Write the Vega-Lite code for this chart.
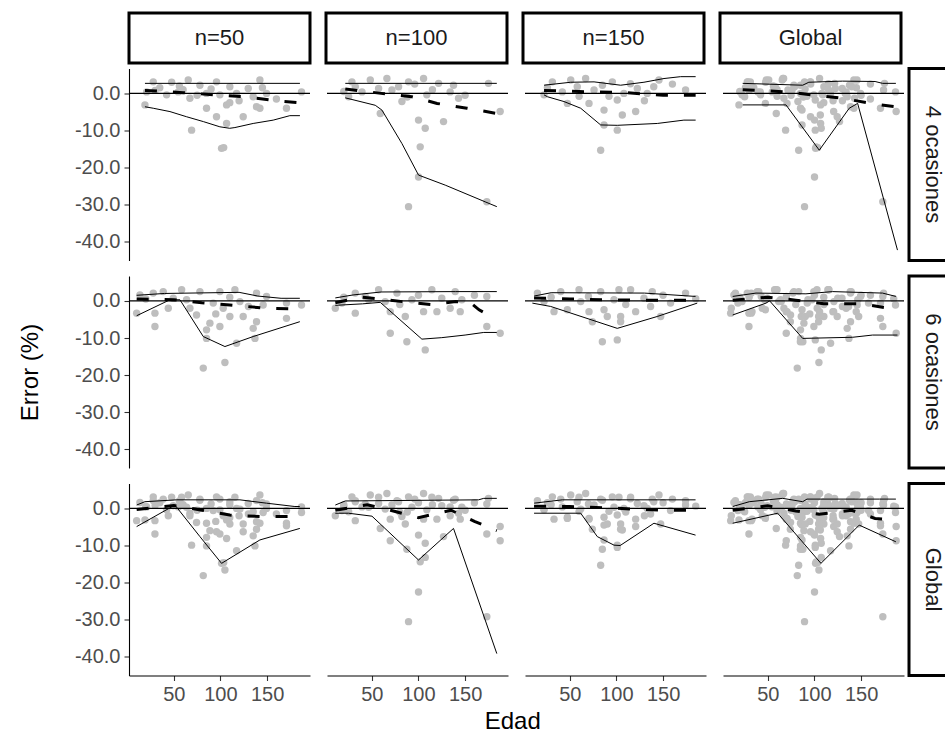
{
"$schema":"https://vega.github.io/schema/vega-lite/v6.json",
"background":"white",
"padding":{"left":16,"top":11,"right":0,"bottom":5},
"title":{"text":"Edad","orient":"bottom","anchor":"middle","frame":"bounds","dx":25,"offset":5,"fontSize":24,"fontWeight":"normal","font":"Liberation Sans","color":"black"},
"config":{"view":{"stroke":null},"font":"Liberation Sans",
 "axis":{"domainColor":"black","domainWidth":1.1,"tickColor":"#333333","tickWidth":1.1,"tickSize":5,"labelColor":"#4D4D4D","labelFontSize":20,"labelFont":"Liberation Sans","titleFont":"Liberation Sans","titleFontSize":24,"titleFontWeight":"normal","titleColor":"black","grid":false,"labelPadding":4,"labelOverlap":false}},
"datasets":{
"pts":[
{"n":50,"o":4,"x":19.1,"y":-3.1},{"n":50,"o":4,"x":20.9,"y":0.4},{"n":50,"o":4,"x":28.0,"y":3.1},{"n":50,"o":4,"x":35,"y":1.5},{"n":50,"o":4,"x":42.3,"y":-0.4},{"n":50,"o":4,"x":47.7,"y":3.0},{"n":50,"o":4,"x":54.8,"y":0.4},{"n":50,"o":4,"x":60,"y":1.0},{"n":50,"o":4,"x":65.5,"y":3.6},{"n":50,"o":4,"x":67.3,"y":-1.3},{"n":50,"o":4,"x":69.1,"y":-9.9},{"n":50,"o":4,"x":75,"y":-0.5},{"n":50,"o":4,"x":78.0,"y":2.2},{"n":50,"o":4,"x":85.1,"y":0.0},{"n":50,"o":4,"x":85.1,"y":-4.0},{"n":50,"o":4,"x":90,"y":1.2},{"n":50,"o":4,"x":95.8,"y":3.1},{"n":50,"o":4,"x":95.8,"y":-6.3},{"n":50,"o":4,"x":99.4,"y":-0.4},{"n":50,"o":4,"x":101.2,"y":-14.8},{"n":50,"o":4,"x":103.5,"y":-14.6},{"n":50,"o":4,"x":106.6,"y":-3.1},{"n":50,"o":4,"x":106.6,"y":-8.1},{"n":50,"o":4,"x":110.1,"y":1.8},{"n":50,"o":4,"x":117.3,"y":0.0},{"n":50,"o":4,"x":120,"y":-2.0},{"n":50,"o":4,"x":124.4,"y":-6.3},{"n":50,"o":4,"x":129.8,"y":1.3},{"n":50,"o":4,"x":135.1,"y":-0.9},{"n":50,"o":4,"x":138.7,"y":-3.6},{"n":50,"o":4,"x":142.3,"y":3.6},{"n":50,"o":4,"x":142.3,"y":-4.0},{"n":50,"o":4,"x":149.4,"y":0.0},{"n":50,"o":4,"x":160,"y":-1.5},{"n":50,"o":4,"x":170.8,"y":-4.0},{"n":50,"o":4,"x":186.9,"y":0.4},{"n":50,"o":4,"x":30,"y":0.8},{"n":50,"o":4,"x":110,"y":-2.5},{"n":50,"o":4,"x":145,"y":1.5},{"n":50,"o":4,"x":56,"y":2.0},
{"n":100,"o":4,"x":28.7,"y":3.1},{"n":100,"o":4,"x":48.4,"y":3.6},{"n":100,"o":4,"x":66.2,"y":4.0},{"n":100,"o":4,"x":78.7,"y":1.8},{"n":100,"o":4,"x":89.4,"y":3.1},{"n":100,"o":4,"x":105.5,"y":4.0},{"n":100,"o":4,"x":121.6,"y":2.7},{"n":100,"o":4,"x":137.6,"y":2.2},{"n":100,"o":4,"x":143,"y":-1.3},{"n":100,"o":4,"x":175.1,"y":2.7},{"n":100,"o":4,"x":187.6,"y":-4.9},{"n":100,"o":4,"x":59.1,"y":-5.4},{"n":100,"o":4,"x":100.1,"y":-7.2},{"n":100,"o":4,"x":107.3,"y":-9.4},{"n":100,"o":4,"x":126.9,"y":-7.6},{"n":100,"o":4,"x":101.9,"y":-14.4},{"n":100,"o":4,"x":100.1,"y":-22.5},{"n":100,"o":4,"x":89.4,"y":-30.5},{"n":100,"o":4,"x":173.3,"y":-29.2},{"n":100,"o":4,"x":25.2,"y":-0.9},{"n":100,"o":4,"x":39.5,"y":0.4},{"n":100,"o":4,"x":82.3,"y":-2.2},{"n":100,"o":4,"x":71.6,"y":0.9},{"n":100,"o":4,"x":109,"y":-0.4},{"n":100,"o":4,"x":57.3,"y":1.3},{"n":100,"o":4,"x":134,"y":0.4},{"n":100,"o":4,"x":32.3,"y":1.8},{"n":100,"o":4,"x":96,"y":2.5},{"n":100,"o":4,"x":115,"y":1.0},{"n":100,"o":4,"x":20,"y":0.5},{"n":100,"o":4,"x":150,"y":-0.5},{"n":100,"o":4,"x":88,"y":-1.0},
{"n":150,"o":4,"x":31.3,"y":3.1},{"n":150,"o":4,"x":51,"y":3.6},{"n":150,"o":4,"x":67,"y":4.0},{"n":150,"o":4,"x":95.6,"y":3.1},{"n":150,"o":4,"x":145.6,"y":3.6},{"n":150,"o":4,"x":174.1,"y":0.9},{"n":150,"o":4,"x":22.4,"y":-0.4},{"n":150,"o":4,"x":47.4,"y":-2.7},{"n":150,"o":4,"x":70.6,"y":-2.7},{"n":150,"o":4,"x":86.7,"y":-4.5},{"n":150,"o":4,"x":100.9,"y":-1.8},{"n":150,"o":4,"x":106.3,"y":-5.8},{"n":150,"o":4,"x":100.9,"y":-9.9},{"n":150,"o":4,"x":86.7,"y":-8.5},{"n":150,"o":4,"x":120.6,"y":-4.9},{"n":150,"o":4,"x":83.1,"y":-15.3},{"n":150,"o":4,"x":122.4,"y":1.3},{"n":150,"o":4,"x":133,"y":0.0},{"n":150,"o":4,"x":76,"y":0.9},{"n":150,"o":4,"x":42,"y":0.4},{"n":150,"o":4,"x":58,"y":1.8},{"n":150,"o":4,"x":108,"y":0.0},{"n":150,"o":4,"x":26,"y":1.5},{"n":150,"o":4,"x":85,"y":2.2},{"n":150,"o":4,"x":115,"y":2.6},{"n":150,"o":4,"x":140,"y":1.8},{"n":150,"o":4,"x":160,"y":2.5},{"n":150,"o":4,"x":92,"y":-0.8},{"n":150,"o":4,"x":60,"y":-0.8},{"n":150,"o":4,"x":130,"y":-2.0},
{"n":50,"o":6,"x":13.7,"y":1.6},{"n":50,"o":6,"x":28,"y":2.1},{"n":50,"o":6,"x":38.7,"y":2.5},{"n":50,"o":6,"x":58.4,"y":3.0},{"n":50,"o":6,"x":78,"y":2.5},{"n":50,"o":6,"x":99.4,"y":2.5},{"n":50,"o":6,"x":115.5,"y":3.0},{"n":50,"o":6,"x":138.7,"y":2.1},{"n":50,"o":6,"x":149.4,"y":1.2},{"n":50,"o":6,"x":170.8,"y":-0.6},{"n":50,"o":6,"x":186.9,"y":-1.1},{"n":50,"o":6,"x":10.2,"y":-3.3},{"n":50,"o":6,"x":29.8,"y":-3.3},{"n":50,"o":6,"x":29.8,"y":-6.9},{"n":50,"o":6,"x":44.1,"y":-2.0},{"n":50,"o":6,"x":67.3,"y":-2.0},{"n":50,"o":6,"x":74.4,"y":-3.8},{"n":50,"o":6,"x":88.7,"y":-6.0},{"n":50,"o":6,"x":85.1,"y":-7.8},{"n":50,"o":6,"x":99.4,"y":-6.9},{"n":50,"o":6,"x":103,"y":-2.0},{"n":50,"o":6,"x":110.1,"y":-4.2},{"n":50,"o":6,"x":124.4,"y":-4.2},{"n":50,"o":6,"x":135.1,"y":-7.4},{"n":50,"o":6,"x":138.7,"y":-5.6},{"n":50,"o":6,"x":170.8,"y":-4.7},{"n":50,"o":6,"x":81.6,"y":-18.1},{"n":50,"o":6,"x":104.8,"y":-16.6},{"n":50,"o":6,"x":85.1,"y":-10.1},{"n":50,"o":6,"x":117.3,"y":-11.4},{"n":50,"o":6,"x":137,"y":-10.1},{"n":50,"o":6,"x":63.7,"y":0.3},{"n":50,"o":6,"x":49.4,"y":0.7},{"n":50,"o":6,"x":92.3,"y":-0.6},{"n":50,"o":6,"x":120.9,"y":-0.2},{"n":50,"o":6,"x":145.8,"y":-1.1},{"n":50,"o":6,"x":20,"y":0.5},{"n":50,"o":6,"x":110,"y":1.0},{"n":50,"o":6,"x":130,"y":-1.5},{"n":50,"o":6,"x":95,"y":-3.5},
{"n":100,"o":6,"x":32.3,"y":2.1},{"n":100,"o":6,"x":57.3,"y":3.0},{"n":100,"o":6,"x":77,"y":2.1},{"n":100,"o":6,"x":114.4,"y":3.0},{"n":100,"o":6,"x":139.4,"y":2.5},{"n":100,"o":6,"x":173.3,"y":1.2},{"n":100,"o":6,"x":10.9,"y":-2.0},{"n":100,"o":6,"x":32.3,"y":-3.3},{"n":100,"o":6,"x":69.8,"y":-2.9},{"n":100,"o":6,"x":85.9,"y":-4.2},{"n":100,"o":6,"x":105.5,"y":-2.9},{"n":100,"o":6,"x":119.8,"y":-2.9},{"n":100,"o":6,"x":134,"y":-2.0},{"n":100,"o":6,"x":144.8,"y":-2.9},{"n":100,"o":6,"x":69.8,"y":-8.7},{"n":100,"o":6,"x":87.6,"y":-11.0},{"n":100,"o":6,"x":107.3,"y":-13.2},{"n":100,"o":6,"x":173.3,"y":-6.9},{"n":100,"o":6,"x":187.6,"y":-8.7},{"n":100,"o":6,"x":18,"y":-0.6},{"n":100,"o":6,"x":46.6,"y":0.3},{"n":100,"o":6,"x":93,"y":0.3},{"n":100,"o":6,"x":125,"y":0.7},{"n":100,"o":6,"x":146.5,"y":0.3},{"n":100,"o":6,"x":43,"y":1.2},{"n":100,"o":6,"x":64.4,"y":-0.2},{"n":100,"o":6,"x":20,"y":1.0},{"n":100,"o":6,"x":100,"y":1.5},{"n":100,"o":6,"x":80,"y":-1.0},{"n":100,"o":6,"x":160,"y":1.5},
{"n":150,"o":6,"x":15.3,"y":2.1},{"n":150,"o":6,"x":40.3,"y":2.5},{"n":150,"o":6,"x":59.9,"y":3.0},{"n":150,"o":6,"x":83.1,"y":2.5},{"n":150,"o":6,"x":102.7,"y":3.0},{"n":150,"o":6,"x":115.2,"y":3.0},{"n":150,"o":6,"x":138.4,"y":2.5},{"n":150,"o":6,"x":174.1,"y":2.1},{"n":150,"o":6,"x":33.1,"y":-2.9},{"n":150,"o":6,"x":47.4,"y":-2.4},{"n":150,"o":6,"x":70.6,"y":-2.9},{"n":150,"o":6,"x":74.2,"y":-5.6},{"n":150,"o":6,"x":86.7,"y":-2.4},{"n":150,"o":6,"x":90.2,"y":-4.2},{"n":150,"o":6,"x":104.5,"y":-4.2},{"n":150,"o":6,"x":104.5,"y":-5.6},{"n":150,"o":6,"x":120.6,"y":-2.9},{"n":150,"o":6,"x":136.6,"y":-1.5},{"n":150,"o":6,"x":147.4,"y":-4.2},{"n":150,"o":6,"x":84.9,"y":-11.0},{"n":150,"o":6,"x":100.9,"y":-10.5},{"n":150,"o":6,"x":22.4,"y":-0.2},{"n":150,"o":6,"x":61.7,"y":-0.2},{"n":150,"o":6,"x":97.4,"y":0.3},{"n":150,"o":6,"x":129.5,"y":0.7},{"n":150,"o":6,"x":158,"y":-0.6},{"n":150,"o":6,"x":30,"y":1.0},{"n":150,"o":6,"x":70,"y":1.2},{"n":150,"o":6,"x":150,"y":1.5},{"n":150,"o":6,"x":110,"y":-1.0},{"n":150,"o":6,"x":185,"y":0.6}
],
"lns":[
{"p":"11","t":"sup","x":19.1,"y":2.7},{"p":"11","t":"sup","x":185.2,"y":2.7},
{"p":"11","t":"inf","x":19.1,"y":-3.6},{"p":"11","t":"inf","x":28,"y":-4.0},{"p":"11","t":"inf","x":45.9,"y":-4.9},{"p":"11","t":"inf","x":63.8,"y":-6.3},{"p":"11","t":"inf","x":81.7,"y":-7.6},{"p":"11","t":"inf","x":99.4,"y":-9.0},{"p":"11","t":"inf","x":110,"y":-9.4},{"p":"11","t":"inf","x":115.5,"y":-9.2},{"p":"11","t":"inf","x":135.1,"y":-8.1},{"p":"11","t":"inf","x":156.6,"y":-7.2},{"p":"11","t":"inf","x":174.4,"y":-6.0},{"p":"11","t":"inf","x":185.2,"y":-6.0},
{"p":"11","t":"media","x":19.1,"y":0.8},{"p":"11","t":"media","x":60,"y":0.2},{"p":"11","t":"media","x":100,"y":-0.5},{"p":"11","t":"media","x":130,"y":-1.0},{"p":"11","t":"media","x":160,"y":-2.0},{"p":"11","t":"media","x":185.2,"y":-2.5},
{"p":"12","t":"sup","x":21.6,"y":2.7},{"p":"12","t":"sup","x":184,"y":2.7},
{"p":"12","t":"inf","x":21.6,"y":-1.2},{"p":"12","t":"inf","x":53.7,"y":-3.2},{"p":"12","t":"inf","x":60.9,"y":-4.5},{"p":"12","t":"inf","x":82.3,"y":-13.5},{"p":"12","t":"inf","x":100.1,"y":-22.0},{"p":"12","t":"inf","x":128.7,"y":-24.7},{"p":"12","t":"inf","x":171.5,"y":-29.2},{"p":"12","t":"inf","x":184,"y":-30.5},
{"p":"12","t":"media","x":21.6,"y":1.2},{"p":"12","t":"media","x":60,"y":0.0},{"p":"12","t":"media","x":93,"y":-0.9},{"p":"12","t":"media","x":120,"y":-2.7},{"p":"12","t":"media","x":152,"y":-4.0},{"p":"12","t":"media","x":184,"y":-5.4},
{"p":"13","t":"sup","x":22.4,"y":2.2},{"p":"13","t":"sup","x":51,"y":3.0},{"p":"13","t":"sup","x":76,"y":3.1},{"p":"13","t":"sup","x":104.5,"y":2.2},{"p":"13","t":"sup","x":129.5,"y":3.0},{"p":"13","t":"sup","x":151,"y":4.0},{"p":"13","t":"sup","x":168.8,"y":4.5},{"p":"13","t":"sup","x":184.9,"y":4.5},
{"p":"13","t":"inf","x":22.4,"y":-0.4},{"p":"13","t":"inf","x":26,"y":-0.9},{"p":"13","t":"inf","x":43.8,"y":-2.2},{"p":"13","t":"inf","x":61.7,"y":-4.0},{"p":"13","t":"inf","x":83.1,"y":-8.5},{"p":"13","t":"inf","x":100.9,"y":-8.6},{"p":"13","t":"inf","x":143.8,"y":-8.1},{"p":"13","t":"inf","x":172.3,"y":-7.2},{"p":"13","t":"inf","x":184.9,"y":-7.2},
{"p":"13","t":"media","x":22.4,"y":0.8},{"p":"13","t":"media","x":60,"y":0.5},{"p":"13","t":"media","x":110,"y":0.2},{"p":"13","t":"media","x":150,"y":-0.5},{"p":"13","t":"media","x":184.9,"y":-0.5},
{"p":"14","t":"sup","x":23.1,"y":2.7},{"p":"14","t":"sup","x":87.4,"y":2.2},{"p":"14","t":"sup","x":94,"y":3.0},{"p":"14","t":"sup","x":130,"y":3.3},{"p":"14","t":"sup","x":165,"y":3.2},{"p":"14","t":"sup","x":173,"y":2.7},{"p":"14","t":"sup","x":187.3,"y":2.7},
{"p":"14","t":"inf","x":23.1,"y":-3.1},{"p":"14","t":"inf","x":69.5,"y":-3.1},{"p":"14","t":"inf","x":105.2,"y":-15.3},{"p":"14","t":"inf","x":137.3,"y":-4.0},{"p":"14","t":"inf","x":146.3,"y":-2.7},{"p":"14","t":"inf","x":189,"y":-42.2},
{"p":"14","t":"media","x":23.1,"y":1.0},{"p":"14","t":"media","x":70,"y":0.4},{"p":"14","t":"media","x":100,"y":-0.5},{"p":"14","t":"media","x":130,"y":-1.3},{"p":"14","t":"media","x":160,"y":-2.7},{"p":"14","t":"media","x":187.3,"y":-3.6},
{"p":"21","t":"sup","x":10.2,"y":1.5},{"p":"21","t":"sup","x":40,"y":2.0},{"p":"21","t":"sup","x":120,"y":2.3},{"p":"21","t":"sup","x":140,"y":1.3},{"p":"21","t":"sup","x":165,"y":0.7},{"p":"21","t":"sup","x":185.1,"y":0.7},
{"p":"21","t":"inf","x":10.2,"y":-4.0},{"p":"21","t":"inf","x":45.9,"y":0.3},{"p":"21","t":"inf","x":56.6,"y":0.3},{"p":"21","t":"inf","x":81.6,"y":-9.6},{"p":"21","t":"inf","x":104.8,"y":-12.3},{"p":"21","t":"inf","x":135.1,"y":-9.6},{"p":"21","t":"inf","x":185.1,"y":-5.6},
{"p":"21","t":"media","x":10.2,"y":0.5},{"p":"21","t":"media","x":50,"y":0.3},{"p":"21","t":"media","x":80,"y":-0.5},{"p":"21","t":"media","x":110,"y":-1.1},{"p":"21","t":"media","x":150,"y":-2.0},{"p":"21","t":"media","x":185.1,"y":-2.2},
{"p":"22","t":"sup","x":10.9,"y":0.8},{"p":"22","t":"sup","x":30,"y":1.6},{"p":"22","t":"sup","x":60,"y":2.4},{"p":"22","t":"sup","x":140,"y":2.5},{"p":"22","t":"sup","x":184,"y":2.5},
{"p":"22","t":"inf","x":10.9,"y":-1.2},{"p":"22","t":"inf","x":40,"y":-0.8},{"p":"22","t":"inf","x":59.1,"y":-0.4},{"p":"22","t":"inf","x":103.7,"y":-10.3},{"p":"22","t":"inf","x":125,"y":-9.9},{"p":"22","t":"inf","x":150,"y":-9.2},{"p":"22","t":"inf","x":170,"y":-8.5},{"p":"22","t":"inf","x":184,"y":-8.5},
{"p":"22","t":"media","x":10.9,"y":-0.5},{"p":"22","t":"media","x":40,"y":1.0},{"p":"22","t":"media","x":65,"y":0.3},{"p":"22","t":"media","x":90,"y":-0.4},{"p":"22","t":"media","x":115,"y":-1.0},{"p":"22","t":"media","x":140,"y":-0.2},{"p":"22","t":"media","x":155,"y":-0.3},{"p":"22","t":"media","x":165,"y":-2.4},{"p":"22","t":"media","x":184,"y":-5.0},
{"p":"23","t":"sup","x":11.7,"y":1.3},{"p":"23","t":"sup","x":30,"y":2.2},{"p":"23","t":"sup","x":130,"y":2.1},{"p":"23","t":"sup","x":184.8,"y":1.2},
{"p":"23","t":"inf","x":9.9,"y":-0.6},{"p":"23","t":"inf","x":29.5,"y":-1.5},{"p":"23","t":"inf","x":100.9,"y":-7.4},{"p":"23","t":"inf","x":143.8,"y":-4.2},{"p":"23","t":"inf","x":186.6,"y":-0.6},
{"p":"23","t":"media","x":11.7,"y":0.8},{"p":"23","t":"media","x":50,"y":0.5},{"p":"23","t":"media","x":90,"y":0.3},{"p":"23","t":"media","x":130,"y":0.2},{"p":"23","t":"media","x":184.8,"y":0.2},
{"p":"24","t":"sup","x":12.4,"y":1.2},{"p":"24","t":"sup","x":37.4,"y":2.1},{"p":"24","t":"sup","x":90.9,"y":1.9},{"p":"24","t":"sup","x":119.5,"y":2.5},{"p":"24","t":"sup","x":173,"y":2.1},{"p":"24","t":"sup","x":187.3,"y":1.2},
{"p":"24","t":"inf","x":12.4,"y":-3.8},{"p":"24","t":"inf","x":48.1,"y":-0.6},{"p":"24","t":"inf","x":52,"y":0.0},{"p":"24","t":"inf","x":87.4,"y":-10.1},{"p":"24","t":"inf","x":140.9,"y":-9.8},{"p":"24","t":"inf","x":162.3,"y":-9.2},{"p":"24","t":"inf","x":189,"y":-9.2},
{"p":"24","t":"media","x":12.4,"y":0.2},{"p":"24","t":"media","x":50,"y":1.0},{"p":"24","t":"media","x":80,"y":0.2},{"p":"24","t":"media","x":110,"y":-0.8},{"p":"24","t":"media","x":150,"y":-0.8},{"p":"24","t":"media","x":180,"y":-2.0},{"p":"24","t":"media","x":187.3,"y":-2.0},
{"p":"31","t":"sup","x":10.2,"y":0.9},{"p":"31","t":"sup","x":19.1,"y":1.8},{"p":"31","t":"sup","x":53,"y":2.3},{"p":"31","t":"sup","x":120.9,"y":2.3},{"p":"31","t":"sup","x":149.4,"y":1.4},{"p":"31","t":"sup","x":179.8,"y":0.5},{"p":"31","t":"sup","x":185,"y":0.5},
{"p":"31","t":"inf","x":10.2,"y":-4.9},{"p":"31","t":"inf","x":51.2,"y":0.9},{"p":"31","t":"inf","x":78,"y":-7.6},{"p":"31","t":"inf","x":101.2,"y":-14.8},{"p":"31","t":"inf","x":142.3,"y":-8.5},{"p":"31","t":"inf","x":185.1,"y":-5.4},
{"p":"31","t":"media","x":10.2,"y":-0.3},{"p":"31","t":"media","x":50,"y":0.8},{"p":"31","t":"media","x":80,"y":-0.5},{"p":"31","t":"media","x":110,"y":-1.8},{"p":"31","t":"media","x":145,"y":-2.2},{"p":"31","t":"media","x":185,"y":-2.2},
{"p":"32","t":"sup","x":10.9,"y":0.9},{"p":"32","t":"sup","x":21.6,"y":2.0},{"p":"32","t":"sup","x":164.4,"y":2.3},{"p":"32","t":"sup","x":170,"y":2.7},{"p":"32","t":"sup","x":184,"y":2.7},
{"p":"32","t":"inf","x":10.9,"y":-1.3},{"p":"32","t":"inf","x":25,"y":-1.3},{"p":"32","t":"inf","x":50.2,"y":-2.1},{"p":"32","t":"inf","x":100.1,"y":-13.9},{"p":"32","t":"inf","x":137.6,"y":-5.4},{"p":"32","t":"inf","x":184,"y":-39.1},
{"p":"32","t":"media","x":10.9,"y":-0.5},{"p":"32","t":"media","x":45,"y":1.0},{"p":"32","t":"media","x":70,"y":-0.5},{"p":"32","t":"media","x":100,"y":-2.5},{"p":"32","t":"media","x":135,"y":-0.5},{"p":"32","t":"media","x":160,"y":-3.5},{"p":"32","t":"media","x":184,"y":-6.0},
{"p":"33","t":"sup","x":11.7,"y":1.4},{"p":"33","t":"sup","x":42,"y":2.3},{"p":"33","t":"sup","x":184.8,"y":2.3},
{"p":"33","t":"inf","x":11.7,"y":-1.3},{"p":"33","t":"inf","x":61.7,"y":-1.3},{"p":"33","t":"inf","x":79.5,"y":-7.6},{"p":"33","t":"inf","x":97.4,"y":-9.9},{"p":"33","t":"inf","x":104,"y":-10.0},{"p":"33","t":"inf","x":140.2,"y":-4.0},{"p":"33","t":"inf","x":184.8,"y":-7.2},
{"p":"33","t":"media","x":11.7,"y":0.6},{"p":"33","t":"media","x":50,"y":0.5},{"p":"33","t":"media","x":85,"y":0.2},{"p":"33","t":"media","x":120,"y":-0.2},{"p":"33","t":"media","x":150,"y":-0.5},{"p":"33","t":"media","x":184.8,"y":-0.5},
{"p":"34","t":"sup","x":12.4,"y":0.5},{"p":"34","t":"sup","x":30.2,"y":1.8},{"p":"34","t":"sup","x":66,"y":2.7},{"p":"34","t":"sup","x":87.4,"y":1.8},{"p":"34","t":"sup","x":92,"y":2.5},{"p":"34","t":"sup","x":169.5,"y":2.5},{"p":"34","t":"sup","x":187.3,"y":2.5},
{"p":"34","t":"inf","x":12.4,"y":-4.0},{"p":"34","t":"inf","x":60.6,"y":-1.3},{"p":"34","t":"inf","x":107,"y":-14.8},{"p":"34","t":"inf","x":148,"y":-4.5},{"p":"34","t":"inf","x":187.3,"y":-9.0},
{"p":"34","t":"media","x":12.4,"y":-0.5},{"p":"34","t":"media","x":50,"y":0.7},{"p":"34","t":"media","x":80,"y":-0.7},{"p":"34","t":"media","x":105,"y":-1.6},{"p":"34","t":"media","x":140,"y":-0.5},{"p":"34","t":"media","x":165,"y":-2.7},{"p":"34","t":"media","x":187.3,"y":-3.2}
]},
"spacing":1.5,
"vconcat":[
{"hconcat":[
 {"width":181,"height":50,"view":{"stroke":"black","strokeWidth":3,"fill":"white"},"layer":[
  {"data":{"values":[{}]},"mark":{"type":"rule","opacity":0},"encoding":{"y":{"datum":0,"type":"quantitative","scale":{"domain":[-45,6.7],"nice":false,"zero":false},"axis":{"values":[-20],"labelExpr":"replace(format(datum.value,'.1f'),'\u2212','-')","title":"\u00a0","titlePadding":32,"labelColor":"transparent","tickColor":"transparent","domainColor":"transparent","titleColor":"transparent"}}}},
  {"data":{"values":[{"lab":"n=50"}]},"mark":{"type":"text","fontSize":22,"color":"#1A1A1A"},"encoding":{"text":{"field":"lab"}}}
 ]},
 {"width":181,"height":50,"view":{"stroke":"black","strokeWidth":3,"fill":"white"},"data":{"values":[{"lab":"n=100"}]},"mark":{"type":"text","fontSize":22,"color":"#1A1A1A"},"encoding":{"text":{"field":"lab"}}},
 {"width":181,"height":50,"view":{"stroke":"black","strokeWidth":3,"fill":"white"},"data":{"values":[{"lab":"n=150"}]},"mark":{"type":"text","fontSize":22,"color":"#1A1A1A"},"encoding":{"text":{"field":"lab"}}},
 {"width":181,"height":50,"view":{"stroke":"black","strokeWidth":3,"fill":"white"},"data":{"values":[{"lab":"Global"}]},"mark":{"type":"text","fontSize":22,"color":"#1A1A1A"},"encoding":{"text":{"field":"lab"}}}
],"spacing":12},
{"vconcat":[
 {"hconcat":[{"hconcat":[
  {"width":181,"height":192,"layer":[
   {"data":{"name":"pts"},"transform":[{"filter":"datum.o == 4 && datum.n == 50"}],"mark":{"type":"circle","size":55,"color":"#BEBEBE","opacity":1},"encoding":{"x":{"field":"x","type":"quantitative","scale":{"domain":[2,196],"nice":false,"zero":false},"axis":null},"y":{"field":"y","type":"quantitative","scale":{"domain":[-45,6.7],"nice":false,"zero":false},"axis":{"values":[0,-10,-20,-30,-40],"labelExpr":"replace(format(datum.value,'.1f'),'\u2212','-')","title":"\u00a0","titlePadding":32,"titleColor":"transparent"}}}},
   {"data":{"values":[{}]},"mark":{"type":"rule","color":"black","strokeWidth":1.1},"encoding":{"y":{"datum":0,"type":"quantitative","scale":{"domain":[-45,6.7],"nice":false,"zero":false},"axis":{"values":[0,-10,-20,-30,-40],"labelExpr":"replace(format(datum.value,'.1f'),'\u2212','-')","title":"\u00a0","titlePadding":32,"titleColor":"transparent"}}}},
   {"data":{"name":"lns"},"transform":[{"filter":"datum.p == '11' && datum.t != 'media'"}],"mark":{"type":"line","color":"black","strokeWidth":1},"encoding":{"x":{"field":"x","type":"quantitative","scale":{"domain":[2,196],"nice":false,"zero":false},"axis":null},"y":{"field":"y","type":"quantitative","scale":{"domain":[-45,6.7],"nice":false,"zero":false},"axis":{"values":[0,-10,-20,-30,-40],"labelExpr":"replace(format(datum.value,'.1f'),'\u2212','-')","title":"\u00a0","titlePadding":32,"titleColor":"transparent"}},"detail":{"field":"t"}}},
   {"data":{"name":"lns"},"transform":[{"filter":"datum.p == '11' && datum.t == 'media'"}],"mark":{"type":"line","color":"black","strokeWidth":3,"strokeDash":[12,16]},"encoding":{"x":{"field":"x","type":"quantitative","scale":{"domain":[2,196],"nice":false,"zero":false},"axis":null},"y":{"field":"y","type":"quantitative","scale":{"domain":[-45,6.7],"nice":false,"zero":false},"axis":{"values":[0,-10,-20,-30,-40],"labelExpr":"replace(format(datum.value,'.1f'),'\u2212','-')","title":"\u00a0","titlePadding":32,"titleColor":"transparent"}}}}
  ]},
  {"width":181,"height":192,"layer":[
   {"data":{"name":"pts"},"transform":[{"filter":"datum.o == 4 && datum.n == 100"}],"mark":{"type":"circle","size":55,"color":"#BEBEBE","opacity":1},"encoding":{"x":{"field":"x","type":"quantitative","scale":{"domain":[2,196],"nice":false,"zero":false},"axis":null},"y":{"field":"y","type":"quantitative","scale":{"domain":[-45,6.7],"nice":false,"zero":false},"axis":null}}},
   {"data":{"values":[{}]},"mark":{"type":"rule","color":"black","strokeWidth":1.1},"encoding":{"y":{"datum":0,"type":"quantitative","scale":{"domain":[-45,6.7],"nice":false,"zero":false},"axis":null}}},
   {"data":{"name":"lns"},"transform":[{"filter":"datum.p == '12' && datum.t != 'media'"}],"mark":{"type":"line","color":"black","strokeWidth":1},"encoding":{"x":{"field":"x","type":"quantitative","scale":{"domain":[2,196],"nice":false,"zero":false},"axis":null},"y":{"field":"y","type":"quantitative","scale":{"domain":[-45,6.7],"nice":false,"zero":false},"axis":null},"detail":{"field":"t"}}},
   {"data":{"name":"lns"},"transform":[{"filter":"datum.p == '12' && datum.t == 'media'"}],"mark":{"type":"line","color":"black","strokeWidth":3,"strokeDash":[12,16]},"encoding":{"x":{"field":"x","type":"quantitative","scale":{"domain":[2,196],"nice":false,"zero":false},"axis":null},"y":{"field":"y","type":"quantitative","scale":{"domain":[-45,6.7],"nice":false,"zero":false},"axis":null}}}
  ]},
  {"width":181,"height":192,"layer":[
   {"data":{"name":"pts"},"transform":[{"filter":"datum.o == 4 && datum.n == 150"}],"mark":{"type":"circle","size":55,"color":"#BEBEBE","opacity":1},"encoding":{"x":{"field":"x","type":"quantitative","scale":{"domain":[2,196],"nice":false,"zero":false},"axis":null},"y":{"field":"y","type":"quantitative","scale":{"domain":[-45,6.7],"nice":false,"zero":false},"axis":null}}},
   {"data":{"values":[{}]},"mark":{"type":"rule","color":"black","strokeWidth":1.1},"encoding":{"y":{"datum":0,"type":"quantitative","scale":{"domain":[-45,6.7],"nice":false,"zero":false},"axis":null}}},
   {"data":{"name":"lns"},"transform":[{"filter":"datum.p == '13' && datum.t != 'media'"}],"mark":{"type":"line","color":"black","strokeWidth":1},"encoding":{"x":{"field":"x","type":"quantitative","scale":{"domain":[2,196],"nice":false,"zero":false},"axis":null},"y":{"field":"y","type":"quantitative","scale":{"domain":[-45,6.7],"nice":false,"zero":false},"axis":null},"detail":{"field":"t"}}},
   {"data":{"name":"lns"},"transform":[{"filter":"datum.p == '13' && datum.t == 'media'"}],"mark":{"type":"line","color":"black","strokeWidth":3,"strokeDash":[12,16]},"encoding":{"x":{"field":"x","type":"quantitative","scale":{"domain":[2,196],"nice":false,"zero":false},"axis":null},"y":{"field":"y","type":"quantitative","scale":{"domain":[-45,6.7],"nice":false,"zero":false},"axis":null}}}
  ]},
  {"width":181,"height":192,"layer":[
   {"data":{"name":"pts"},"transform":[{"filter":"datum.o == 4"}],"mark":{"type":"circle","size":55,"color":"#BEBEBE","opacity":1},"encoding":{"x":{"field":"x","type":"quantitative","scale":{"domain":[2,196],"nice":false,"zero":false},"axis":null},"y":{"field":"y","type":"quantitative","scale":{"domain":[-45,6.7],"nice":false,"zero":false},"axis":null}}},
   {"data":{"values":[{}]},"mark":{"type":"rule","color":"black","strokeWidth":1.1},"encoding":{"y":{"datum":0,"type":"quantitative","scale":{"domain":[-45,6.7],"nice":false,"zero":false},"axis":null}}},
   {"data":{"name":"lns"},"transform":[{"filter":"datum.p == '14' && datum.t != 'media'"}],"mark":{"type":"line","color":"black","strokeWidth":1},"encoding":{"x":{"field":"x","type":"quantitative","scale":{"domain":[2,196],"nice":false,"zero":false},"axis":null},"y":{"field":"y","type":"quantitative","scale":{"domain":[-45,6.7],"nice":false,"zero":false},"axis":null},"detail":{"field":"t"}}},
   {"data":{"name":"lns"},"transform":[{"filter":"datum.p == '14' && datum.t == 'media'"}],"mark":{"type":"line","color":"black","strokeWidth":3,"strokeDash":[12,16]},"encoding":{"x":{"field":"x","type":"quantitative","scale":{"domain":[2,196],"nice":false,"zero":false},"axis":null},"y":{"field":"y","type":"quantitative","scale":{"domain":[-45,6.7],"nice":false,"zero":false},"axis":null}}}
  ]}
 ],"spacing":15},
 {"width":48,"height":192,"view":{"stroke":"black","strokeWidth":3,"fill":"white"},"data":{"values":[{"lab":"4 ocasiones"}]},"mark":{"type":"text","fontSize":22,"color":"#1A1A1A","angle":90},"encoding":{"text":{"field":"lab"}}}
 ],"spacing":2},
 {"hconcat":[{"hconcat":[
  {"width":181,"height":192,"layer":[
   {"data":{"name":"pts"},"transform":[{"filter":"datum.o == 6 && datum.n == 50"}],"mark":{"type":"circle","size":55,"color":"#BEBEBE","opacity":1},"encoding":{"x":{"field":"x","type":"quantitative","scale":{"domain":[2,196],"nice":false,"zero":false},"axis":null},"y":{"field":"y","type":"quantitative","scale":{"domain":[-45,6.7],"nice":false,"zero":false},"axis":{"values":[0,-10,-20,-30,-40],"labelExpr":"replace(format(datum.value,'.1f'),'\u2212','-')","title":"Error (%)","titlePadding":32}}}},
   {"data":{"values":[{}]},"mark":{"type":"rule","color":"black","strokeWidth":1.1},"encoding":{"y":{"datum":0,"type":"quantitative","scale":{"domain":[-45,6.7],"nice":false,"zero":false},"axis":{"values":[0,-10,-20,-30,-40],"labelExpr":"replace(format(datum.value,'.1f'),'\u2212','-')","title":"Error (%)","titlePadding":32}}}},
   {"data":{"name":"lns"},"transform":[{"filter":"datum.p == '21' && datum.t != 'media'"}],"mark":{"type":"line","color":"black","strokeWidth":1},"encoding":{"x":{"field":"x","type":"quantitative","scale":{"domain":[2,196],"nice":false,"zero":false},"axis":null},"y":{"field":"y","type":"quantitative","scale":{"domain":[-45,6.7],"nice":false,"zero":false},"axis":{"values":[0,-10,-20,-30,-40],"labelExpr":"replace(format(datum.value,'.1f'),'\u2212','-')","title":"Error (%)","titlePadding":32}},"detail":{"field":"t"}}},
   {"data":{"name":"lns"},"transform":[{"filter":"datum.p == '21' && datum.t == 'media'"}],"mark":{"type":"line","color":"black","strokeWidth":3,"strokeDash":[12,16]},"encoding":{"x":{"field":"x","type":"quantitative","scale":{"domain":[2,196],"nice":false,"zero":false},"axis":null},"y":{"field":"y","type":"quantitative","scale":{"domain":[-45,6.7],"nice":false,"zero":false},"axis":{"values":[0,-10,-20,-30,-40],"labelExpr":"replace(format(datum.value,'.1f'),'\u2212','-')","title":"Error (%)","titlePadding":32}}}}
  ]},
  {"width":181,"height":192,"layer":[
   {"data":{"name":"pts"},"transform":[{"filter":"datum.o == 6 && datum.n == 100"}],"mark":{"type":"circle","size":55,"color":"#BEBEBE","opacity":1},"encoding":{"x":{"field":"x","type":"quantitative","scale":{"domain":[2,196],"nice":false,"zero":false},"axis":null},"y":{"field":"y","type":"quantitative","scale":{"domain":[-45,6.7],"nice":false,"zero":false},"axis":null}}},
   {"data":{"values":[{}]},"mark":{"type":"rule","color":"black","strokeWidth":1.1},"encoding":{"y":{"datum":0,"type":"quantitative","scale":{"domain":[-45,6.7],"nice":false,"zero":false},"axis":null}}},
   {"data":{"name":"lns"},"transform":[{"filter":"datum.p == '22' && datum.t != 'media'"}],"mark":{"type":"line","color":"black","strokeWidth":1},"encoding":{"x":{"field":"x","type":"quantitative","scale":{"domain":[2,196],"nice":false,"zero":false},"axis":null},"y":{"field":"y","type":"quantitative","scale":{"domain":[-45,6.7],"nice":false,"zero":false},"axis":null},"detail":{"field":"t"}}},
   {"data":{"name":"lns"},"transform":[{"filter":"datum.p == '22' && datum.t == 'media'"}],"mark":{"type":"line","color":"black","strokeWidth":3,"strokeDash":[12,16]},"encoding":{"x":{"field":"x","type":"quantitative","scale":{"domain":[2,196],"nice":false,"zero":false},"axis":null},"y":{"field":"y","type":"quantitative","scale":{"domain":[-45,6.7],"nice":false,"zero":false},"axis":null}}}
  ]},
  {"width":181,"height":192,"layer":[
   {"data":{"name":"pts"},"transform":[{"filter":"datum.o == 6 && datum.n == 150"}],"mark":{"type":"circle","size":55,"color":"#BEBEBE","opacity":1},"encoding":{"x":{"field":"x","type":"quantitative","scale":{"domain":[2,196],"nice":false,"zero":false},"axis":null},"y":{"field":"y","type":"quantitative","scale":{"domain":[-45,6.7],"nice":false,"zero":false},"axis":null}}},
   {"data":{"values":[{}]},"mark":{"type":"rule","color":"black","strokeWidth":1.1},"encoding":{"y":{"datum":0,"type":"quantitative","scale":{"domain":[-45,6.7],"nice":false,"zero":false},"axis":null}}},
   {"data":{"name":"lns"},"transform":[{"filter":"datum.p == '23' && datum.t != 'media'"}],"mark":{"type":"line","color":"black","strokeWidth":1},"encoding":{"x":{"field":"x","type":"quantitative","scale":{"domain":[2,196],"nice":false,"zero":false},"axis":null},"y":{"field":"y","type":"quantitative","scale":{"domain":[-45,6.7],"nice":false,"zero":false},"axis":null},"detail":{"field":"t"}}},
   {"data":{"name":"lns"},"transform":[{"filter":"datum.p == '23' && datum.t == 'media'"}],"mark":{"type":"line","color":"black","strokeWidth":3,"strokeDash":[12,16]},"encoding":{"x":{"field":"x","type":"quantitative","scale":{"domain":[2,196],"nice":false,"zero":false},"axis":null},"y":{"field":"y","type":"quantitative","scale":{"domain":[-45,6.7],"nice":false,"zero":false},"axis":null}}}
  ]},
  {"width":181,"height":192,"layer":[
   {"data":{"name":"pts"},"transform":[{"filter":"datum.o == 6"}],"mark":{"type":"circle","size":55,"color":"#BEBEBE","opacity":1},"encoding":{"x":{"field":"x","type":"quantitative","scale":{"domain":[2,196],"nice":false,"zero":false},"axis":null},"y":{"field":"y","type":"quantitative","scale":{"domain":[-45,6.7],"nice":false,"zero":false},"axis":null}}},
   {"data":{"values":[{}]},"mark":{"type":"rule","color":"black","strokeWidth":1.1},"encoding":{"y":{"datum":0,"type":"quantitative","scale":{"domain":[-45,6.7],"nice":false,"zero":false},"axis":null}}},
   {"data":{"name":"lns"},"transform":[{"filter":"datum.p == '24' && datum.t != 'media'"}],"mark":{"type":"line","color":"black","strokeWidth":1},"encoding":{"x":{"field":"x","type":"quantitative","scale":{"domain":[2,196],"nice":false,"zero":false},"axis":null},"y":{"field":"y","type":"quantitative","scale":{"domain":[-45,6.7],"nice":false,"zero":false},"axis":null},"detail":{"field":"t"}}},
   {"data":{"name":"lns"},"transform":[{"filter":"datum.p == '24' && datum.t == 'media'"}],"mark":{"type":"line","color":"black","strokeWidth":3,"strokeDash":[12,16]},"encoding":{"x":{"field":"x","type":"quantitative","scale":{"domain":[2,196],"nice":false,"zero":false},"axis":null},"y":{"field":"y","type":"quantitative","scale":{"domain":[-45,6.7],"nice":false,"zero":false},"axis":null}}}
  ]}
 ],"spacing":15},
 {"width":48,"height":192,"view":{"stroke":"black","strokeWidth":3,"fill":"white"},"data":{"values":[{"lab":"6 ocasiones"}]},"mark":{"type":"text","fontSize":22,"color":"#1A1A1A","angle":90},"encoding":{"text":{"field":"lab"}}}
 ],"spacing":2},
 {"hconcat":[{"hconcat":[
  {"width":181,"height":192,"layer":[
   {"data":{"name":"pts"},"transform":[{"filter":"datum.n == 50"}],"mark":{"type":"circle","size":55,"color":"#BEBEBE","opacity":1},"encoding":{"x":{"field":"x","type":"quantitative","scale":{"domain":[2,196],"nice":false,"zero":false},"axis":{"values":[50,100,150],"format":"d","title":null}},"y":{"field":"y","type":"quantitative","scale":{"domain":[-45,6.7],"nice":false,"zero":false},"axis":{"values":[0,-10,-20,-30,-40],"labelExpr":"replace(format(datum.value,'.1f'),'\u2212','-')","title":"\u00a0","titlePadding":32,"titleColor":"transparent"}}}},
   {"data":{"values":[{}]},"mark":{"type":"rule","color":"black","strokeWidth":1.1},"encoding":{"y":{"datum":0,"type":"quantitative","scale":{"domain":[-45,6.7],"nice":false,"zero":false},"axis":{"values":[0,-10,-20,-30,-40],"labelExpr":"replace(format(datum.value,'.1f'),'\u2212','-')","title":"\u00a0","titlePadding":32,"titleColor":"transparent"}}}},
   {"data":{"name":"lns"},"transform":[{"filter":"datum.p == '31' && datum.t != 'media'"}],"mark":{"type":"line","color":"black","strokeWidth":1},"encoding":{"x":{"field":"x","type":"quantitative","scale":{"domain":[2,196],"nice":false,"zero":false},"axis":{"values":[50,100,150],"format":"d","title":null}},"y":{"field":"y","type":"quantitative","scale":{"domain":[-45,6.7],"nice":false,"zero":false},"axis":{"values":[0,-10,-20,-30,-40],"labelExpr":"replace(format(datum.value,'.1f'),'\u2212','-')","title":"\u00a0","titlePadding":32,"titleColor":"transparent"}},"detail":{"field":"t"}}},
   {"data":{"name":"lns"},"transform":[{"filter":"datum.p == '31' && datum.t == 'media'"}],"mark":{"type":"line","color":"black","strokeWidth":3,"strokeDash":[12,16]},"encoding":{"x":{"field":"x","type":"quantitative","scale":{"domain":[2,196],"nice":false,"zero":false},"axis":{"values":[50,100,150],"format":"d","title":null}},"y":{"field":"y","type":"quantitative","scale":{"domain":[-45,6.7],"nice":false,"zero":false},"axis":{"values":[0,-10,-20,-30,-40],"labelExpr":"replace(format(datum.value,'.1f'),'\u2212','-')","title":"\u00a0","titlePadding":32,"titleColor":"transparent"}}}}
  ]},
  {"width":181,"height":192,"layer":[
   {"data":{"name":"pts"},"transform":[{"filter":"datum.n == 100"}],"mark":{"type":"circle","size":55,"color":"#BEBEBE","opacity":1},"encoding":{"x":{"field":"x","type":"quantitative","scale":{"domain":[2,196],"nice":false,"zero":false},"axis":{"values":[50,100,150],"format":"d","title":null}},"y":{"field":"y","type":"quantitative","scale":{"domain":[-45,6.7],"nice":false,"zero":false},"axis":null}}},
   {"data":{"values":[{}]},"mark":{"type":"rule","color":"black","strokeWidth":1.1},"encoding":{"y":{"datum":0,"type":"quantitative","scale":{"domain":[-45,6.7],"nice":false,"zero":false},"axis":null}}},
   {"data":{"name":"lns"},"transform":[{"filter":"datum.p == '32' && datum.t != 'media'"}],"mark":{"type":"line","color":"black","strokeWidth":1},"encoding":{"x":{"field":"x","type":"quantitative","scale":{"domain":[2,196],"nice":false,"zero":false},"axis":{"values":[50,100,150],"format":"d","title":null}},"y":{"field":"y","type":"quantitative","scale":{"domain":[-45,6.7],"nice":false,"zero":false},"axis":null},"detail":{"field":"t"}}},
   {"data":{"name":"lns"},"transform":[{"filter":"datum.p == '32' && datum.t == 'media'"}],"mark":{"type":"line","color":"black","strokeWidth":3,"strokeDash":[12,16]},"encoding":{"x":{"field":"x","type":"quantitative","scale":{"domain":[2,196],"nice":false,"zero":false},"axis":{"values":[50,100,150],"format":"d","title":null}},"y":{"field":"y","type":"quantitative","scale":{"domain":[-45,6.7],"nice":false,"zero":false},"axis":null}}}
  ]},
  {"width":181,"height":192,"layer":[
   {"data":{"name":"pts"},"transform":[{"filter":"datum.n == 150"}],"mark":{"type":"circle","size":55,"color":"#BEBEBE","opacity":1},"encoding":{"x":{"field":"x","type":"quantitative","scale":{"domain":[2,196],"nice":false,"zero":false},"axis":{"values":[50,100,150],"format":"d","title":null}},"y":{"field":"y","type":"quantitative","scale":{"domain":[-45,6.7],"nice":false,"zero":false},"axis":null}}},
   {"data":{"values":[{}]},"mark":{"type":"rule","color":"black","strokeWidth":1.1},"encoding":{"y":{"datum":0,"type":"quantitative","scale":{"domain":[-45,6.7],"nice":false,"zero":false},"axis":null}}},
   {"data":{"name":"lns"},"transform":[{"filter":"datum.p == '33' && datum.t != 'media'"}],"mark":{"type":"line","color":"black","strokeWidth":1},"encoding":{"x":{"field":"x","type":"quantitative","scale":{"domain":[2,196],"nice":false,"zero":false},"axis":{"values":[50,100,150],"format":"d","title":null}},"y":{"field":"y","type":"quantitative","scale":{"domain":[-45,6.7],"nice":false,"zero":false},"axis":null},"detail":{"field":"t"}}},
   {"data":{"name":"lns"},"transform":[{"filter":"datum.p == '33' && datum.t == 'media'"}],"mark":{"type":"line","color":"black","strokeWidth":3,"strokeDash":[12,16]},"encoding":{"x":{"field":"x","type":"quantitative","scale":{"domain":[2,196],"nice":false,"zero":false},"axis":{"values":[50,100,150],"format":"d","title":null}},"y":{"field":"y","type":"quantitative","scale":{"domain":[-45,6.7],"nice":false,"zero":false},"axis":null}}}
  ]},
  {"width":181,"height":192,"layer":[
   {"data":{"name":"pts"},"mark":{"type":"circle","size":55,"color":"#BEBEBE","opacity":1},"encoding":{"x":{"field":"x","type":"quantitative","scale":{"domain":[2,196],"nice":false,"zero":false},"axis":{"values":[50,100,150],"format":"d","title":null}},"y":{"field":"y","type":"quantitative","scale":{"domain":[-45,6.7],"nice":false,"zero":false},"axis":null}}},
   {"data":{"values":[{}]},"mark":{"type":"rule","color":"black","strokeWidth":1.1},"encoding":{"y":{"datum":0,"type":"quantitative","scale":{"domain":[-45,6.7],"nice":false,"zero":false},"axis":null}}},
   {"data":{"name":"lns"},"transform":[{"filter":"datum.p == '34' && datum.t != 'media'"}],"mark":{"type":"line","color":"black","strokeWidth":1},"encoding":{"x":{"field":"x","type":"quantitative","scale":{"domain":[2,196],"nice":false,"zero":false},"axis":{"values":[50,100,150],"format":"d","title":null}},"y":{"field":"y","type":"quantitative","scale":{"domain":[-45,6.7],"nice":false,"zero":false},"axis":null},"detail":{"field":"t"}}},
   {"data":{"name":"lns"},"transform":[{"filter":"datum.p == '34' && datum.t == 'media'"}],"mark":{"type":"line","color":"black","strokeWidth":3,"strokeDash":[12,16]},"encoding":{"x":{"field":"x","type":"quantitative","scale":{"domain":[2,196],"nice":false,"zero":false},"axis":{"values":[50,100,150],"format":"d","title":null}},"y":{"field":"y","type":"quantitative","scale":{"domain":[-45,6.7],"nice":false,"zero":false},"axis":null}}}
  ]}
 ],"spacing":15},
 {"width":48,"height":192,"view":{"stroke":"black","strokeWidth":3,"fill":"white"},"data":{"values":[{"lab":"Global"}]},"mark":{"type":"text","fontSize":22,"color":"#1A1A1A","angle":90},"encoding":{"text":{"field":"lab"}}}
 ],"spacing":2}
],"spacing":11.5}
]
}
